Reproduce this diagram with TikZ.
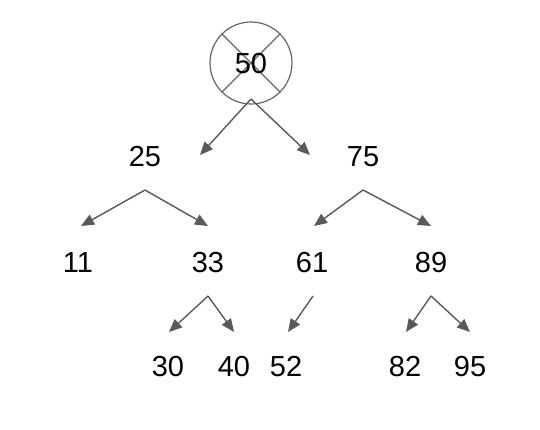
\documentclass[tikz,border=0pt]{standalone}
\usepackage{fontspec}
\setmainfont{Liberation Sans}
\usepackage{tikz}
\usetikzlibrary{arrows.meta}

\begin{document}
\begin{tikzpicture}[x=1pt,y=-1pt,
 key/.style={inner sep=0pt,font=\fontsize{29}{34}\selectfont},
 edge/.style={draw=black!65,line width=1.4pt,-{Triangle[length=13pt,width=11pt]}},
 >=Stealth]
\useasboundingbox (0,0) rectangle (540,430);
% deleted root
\node[circle,draw=black!60,line width=1.2pt,minimum size=82pt,inner sep=0pt] (root) at (251,63) {};
\draw[black!60,line width=1.2pt] (root.north west)--(root.south east) (root.north east)--(root.south west);
\node[key] (n50) at (251,64) {50};
% keys
\node[key] (n25) at (145,157) {25};
\node[key] (n75) at (363,157) {75};
\node[key] (n11) at (78,263) {11};
\node[key] (n33) at (208,263) {33};
\node[key] (n61) at (312,263) {61};
\node[key] (n89) at (431,263) {89};
\node[key] (n30) at (168,367) {30};
\node[key] (n40) at (234,367) {40};
\node[key] (n52) at (286,367) {52};
\node[key] (n82) at (405,367) {82};
\node[key] (n95) at (470,367) {95};
% arrow ends
\coordinate (s50) at (251,99);
\coordinate (t50l) at (200,155); \coordinate (t50r) at (310,155);
\coordinate (s25) at (145,190);
\coordinate (t25l) at (81,226); \coordinate (t25r) at (208,226);
\coordinate (s75) at (363,190);
\coordinate (t75l) at (314,226); \coordinate (t75r) at (431,226);
\coordinate (s33) at (208,296);
\coordinate (t33l) at (169,332); \coordinate (t33r) at (234,332);
\coordinate (s61) at (313,296);
\coordinate (t61) at (288,332);
\coordinate (s89) at (431,296);
\coordinate (t89l) at (406,332); \coordinate (t89r) at (470,332);
\draw[edge] (s50)--(t50l); \draw[edge] (s50)--(t50r);
\draw[edge] (s25)--(t25l); \draw[edge] (s25)--(t25r);
\draw[edge] (s75)--(t75l); \draw[edge] (s75)--(t75r);
\draw[edge] (s33)--(t33l); \draw[edge] (s33)--(t33r);
\draw[edge] (s61)--(t61);
\draw[edge] (s89)--(t89l); \draw[edge] (s89)--(t89r);
\end{tikzpicture}
\end{document}
